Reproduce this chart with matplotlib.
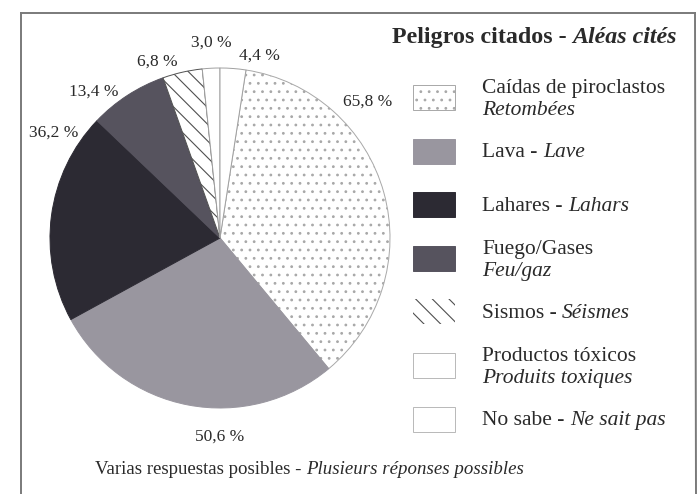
import matplotlib
matplotlib.use('Agg')
import matplotlib.pyplot as plt
from matplotlib.patches import Rectangle

plt.rcParams['font.family'] = ['Liberation Serif', 'DejaVu Serif']
plt.rcParams['hatch.linewidth'] = 0.8

# ---------------- data ----------------
categories_es = ['Caídas de piroclastos', 'Lava -', 'Lahares -', 'Fuego/Gases',
                 'Sismos -', 'Productos tóxicos', 'No sabe -']
categories_fr = ['Retombées', 'Lave', 'Lahars', 'Feu/gaz',
                 'Séismes', 'Produits toxiques', 'Ne sait pas']
two_line = [True, False, False, True, False, True, False]
values = [65.8, 50.6, 36.2, 13.4, 6.8, 3.0, 4.4]
value_labels = ['65,8 %', '50,6 %', '36,2 %', '13,4 %', '6,8 %', '3,0 %', '4,4 %']
title_es = 'Peligros citados -'
title_fr = 'Aléas cités'
note_es = 'Varias respuestas posibles -'
note_fr = 'Plusieurs réponses possibles'

# ---------------- style ----------------
colors = ['white', '#99969f', '#2c2a33', '#56535e', 'white', 'white', 'white']
hatches = ['..', None, None, None, '\\\\', None, None]
edgecols = ['#a8a8a8', '#99969f', '#2c2a33', '#56535e', '#505050', '#a0a0a0', '#a0a0a0']
label_pos = [(0.87, 0.80), (0.0, -1.17), (-0.98, 0.62), (-0.74, 0.86),
             (-0.37, 1.04), (-0.05, 1.15), (0.23, 1.07)]
txt_col = '#2a2a2a'

W, H = 700, 494
fig = plt.figure(figsize=(7, 4.94), dpi=100)
fig.patch.set_facecolor('white')

R, cx, cy = 170, 220, 238
S = 1.28
ax = fig.add_axes([(cx - S * R) / W, (H - cy - S * R) / H, 2 * S * R / W, 2 * S * R / H])
start = 90 - 360 * values[-1] / sum(values)
wedges, _ = ax.pie(values, colors=colors, startangle=start, counterclock=False,
                   radius=1, wedgeprops=dict(linewidth=0.7))
for w, ec, h in zip(wedges, edgecols, hatches):
    w.set_edgecolor(ec)
    if h:
        w.set_hatch(h)
ax.set_xlim(-S, S)
ax.set_ylim(-S, S)
ax.set_aspect('equal')
ax.axis('off')
for lab, (lx, ly) in zip(value_labels, label_pos):
    ax.text(lx, ly, lab, ha='center', va='center', fontsize=12.5, color=txt_col, clip_on=False)

# overlay axes in pixel coordinates
ov = fig.add_axes([0, 0, 1, 1], zorder=5)
ov.set_xlim(0, W)
ov.set_ylim(H, 0)
ov.axis('off')
ov.patch.set_alpha(0)

# frame
ov.plot([21, 21], [13, H], color='#7a7a7a', lw=1.4, clip_on=False)
ov.plot([21, 695], [13, 13], color='#7a7a7a', lw=1.4, clip_on=False)
ov.plot([695, 696], [13, H], color='#7a7a7a', lw=1.4, clip_on=False)

def mixed(x, y, s1, s2, fs, weight='normal', gap=4):
    t1 = ov.text(x, y, s1, fontsize=fs, fontweight=weight, color=txt_col,
                 ha='left', va='baseline')
    ov.annotate(s2, xy=(1, 0), xycoords=t1, xytext=(gap, 0), textcoords='offset points',
                fontsize=fs, fontweight=weight, style='italic', color=txt_col,
                ha='left', va='bottom')

# title
mixed(392, 43, title_es, title_fr, 17.3, weight='bold', gap=4.3)

# legend
box_x, box_w, box_h = 413, 42, 25
y0, dy = 97.5, 53.6
for i in range(len(values)):
    yc = y0 + i * dy
    rect = Rectangle((box_x, yc - box_h / 2), box_w, box_h, facecolor=colors[i],
                     edgecolor=edgecols[i], hatch=hatches[i], lw=0.7)
    if colors[i] == 'white' and hatches[i] is None:
        rect.set_edgecolor('#b8b8b8')
    if hatches[i] == '\\\\':
        rect.set_linewidth(0)
    ov.add_patch(rect)
    if two_line[i]:
        ov.text(482, yc - 4.5, categories_es[i], fontsize=15.5, color=txt_col, va='baseline')
        ov.text(482, yc + 17.5, categories_fr[i], fontsize=15.5, color=txt_col,
                va='baseline', style='italic')
    else:
        mixed(482, yc + 6, categories_es[i], categories_fr[i], 15.5, gap=3.9)

# note
mixed(95, 474, note_es, note_fr, 13.6, gap=3.4)

fig.savefig('out.png', dpi=100)
